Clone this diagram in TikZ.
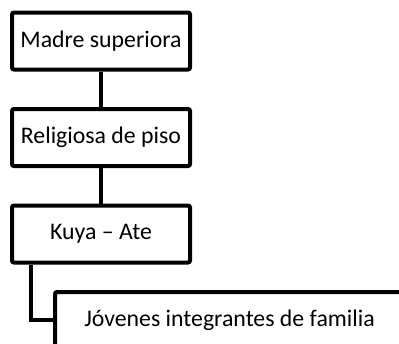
\documentclass[tikz,border=0pt]{standalone}
\usepackage{fontspec}
\setmainfont{Carlito}
\usetikzlibrary{positioning}

\begin{document}
\begin{tikzpicture}[y=-1pt, x=1pt]
	\tikzstyle{every node}=[font=\fontsize{23.8}{28}\selectfont]
	\tikzstyle{cargo}=[draw, line width=4pt, rounded corners=2pt, minimum width=178pt, minimum height=57pt, inner sep=0pt]
	\tikzstyle{enlace}=[line width=4pt]

	%frame
	\useasboundingbox (0,0) rectangle (399,343);
	\clip (0,0) rectangle (399,343);

	%boxes
	\node[cargo] (madre) at (101,41) {Madre superiora};
	\node[cargo, below=35.5pt of madre] (religiosa) {Religiosa de piso};
	\node[cargo, below=35.5pt of religiosa] (kuya) {Kuya – Ate};
	\node[cargo, minimum width=349pt, minimum height=56pt] (jovenes) at (229.5,320) {Jóvenes integrantes de familia};

	%links
	\draw[enlace] (madre) -- (religiosa);
	\draw[enlace] (religiosa) -- (kuya);
	\draw[enlace] ([xshift=-70pt]kuya.south) |- (jovenes.west);
\end{tikzpicture}
\end{document}
